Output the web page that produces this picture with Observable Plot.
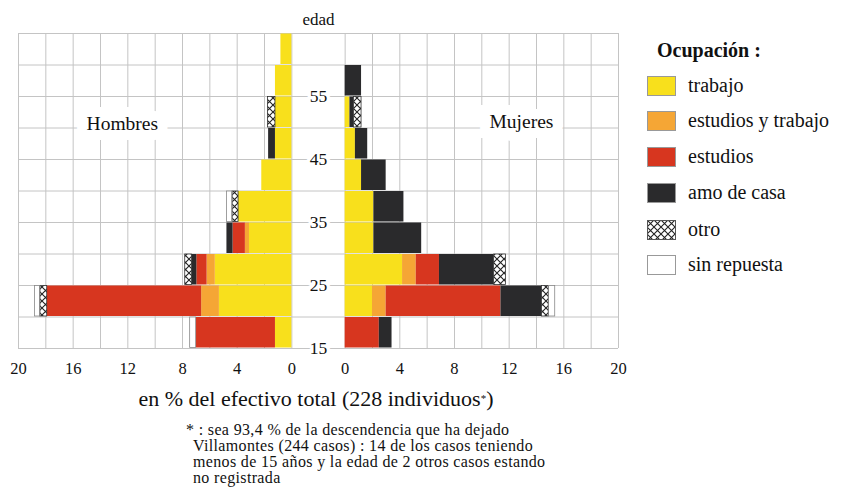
<!DOCTYPE html>
<html>
<head>
<meta charset="utf-8">
<script src="https://cdn.jsdelivr.net/npm/d3@7"></script>
<script src="https://cdn.jsdelivr.net/npm/@observablehq/plot@0.6"></script>
<style>
  body { margin: 0; background: #fff; }
  #wrap { position: relative; width: 849px; height: 488px; font-family: "Liberation Serif", "Times New Roman", serif; color: #111; }
  #chart { position: absolute; left: 0; top: 0; }
  .abs { position: absolute; white-space: nowrap; }
  .legrow { position: absolute; left: 647px; height: 20px; width: 200px; }
  .legrow svg { position: absolute; left: 0; top: 0; }
  .legrow span { position: absolute; left: 41px; top: -2px; font-size: 20px; line-height: 22px; white-space: nowrap; }
  .fn { position: absolute; font-size: 16px; line-height: 16px; letter-spacing: 0.35px; white-space: nowrap; }
</style>
</head>
<body>
<svg width="0" height="0" style="position:absolute">
  <defs>
    <pattern id="xhatch" patternUnits="userSpaceOnUse" width="7" height="7">
      <rect width="7" height="7" fill="#fff"></rect>
      <path d="M0,0 L7,7 M7,0 L0,7" stroke="#222" stroke-width="1.1"></path>
    </pattern>
  </defs>
</svg>
<div id="wrap">
  <div id="chart"></div>
  <div class="abs" id="xtitle" style="left:0; width:632px; text-align:center; top:385px; font-size:22px; line-height:26px;">en % del efectivo total (228 individuos<span style="font-size:11px; vertical-align:4px;">*</span>)</div>
  <div class="fn" style="left:186px; top:422px;">* : sea 93,4 % de la descendencia que ha dejado</div>
  <div class="fn" style="left:193px; top:438px;">Villamontes (244 casos) : 14 de los casos teniendo</div>
  <div class="fn" style="left:193px; top:454px;">menos de 15 años y la edad de 2 otros casos estando</div>
  <div class="fn" style="left:193px; top:470px;">no registrada</div>
  <div class="abs" style="left:657px; top:38px; font-size:20px; line-height:24px; font-weight:bold;">Ocupación :</div>
  <div id="legend"></div>
</div>
<script>
// ---- data (percent of 228 individuals) ----
const ageStarts = [15, 20, 25, 30, 35, 40, 45, 50, 55, 60];
const categories = ["trabajo", "estudios y trabajo", "estudios", "amo de casa", "otro", "sin repuesta"];
const categoryColors = ["#f8e01c", "#f5a635", "#d7361f", "#2a2a2c", "url(#xhatch)", "#ffffff"];

// Hombres (by age bin 15-20 ... 60-65)
const hombresTrabajo        = [1.2, 5.3, 5.6, 3.1, 3.9, 2.2, 1.2, 1.2, 1.2, 0.8];
const hombresEstudiosTrabajo= [0,   1.3, 0.6, 0.3, 0,   0,   0,   0,   0,   0];
const hombresEstudios       = [5.8, 11.3,0.75,0.9, 0,   0,   0,   0,   0,   0];
const hombresAmoCasa        = [0,   0,   0.35,0.45,0,   0,   0.5, 0,   0,   0];
const hombresOtro           = [0,   0.5, 0.5, 0,   0.44,0,   0,   0.55,0,   0];
const hombresSinRespuesta   = [0.44,0.4, 0,   0,   0.4, 0,   0,   0,   0,   0];

// Mujeres
const mujeresTrabajo        = [0,   2.0, 4.2, 2.1, 2.1, 1.2, 0.75,0.35,0,   0];
const mujeresEstudiosTrabajo= [0,   1.0, 1.0, 0,   0,   0,   0,   0,   0,   0];
const mujeresEstudios       = [2.5, 8.4, 1.7, 0,   0,   0,   0,   0,   0,   0];
const mujeresAmoCasa        = [0.93,3.0, 4.0, 3.5, 2.2, 1.8, 0.9, 0.3, 1.2, 0];
const mujeresOtro           = [0,   0.5, 0.86,0,   0,   0,   0,   0.55,0,   0];
const mujeresSinRespuesta   = [0,   0.47,0,   0,   0,   0,   0,   0,   0,   0];

const xTickLabels = [0, 4, 8, 12, 16, 20];
const ageLabels = [15, 25, 35, 45, 55];

// ---- layout helpers ----
const serif = "'Liberation Serif', 'Times New Roman', serif";
const gap = 1.95; // half-gap between the two panels, in % units
const gridSteps = d3.range(0, 21, 2);

const rows = [];
function addSex(sex, series) {
  ageStarts.forEach((age, i) => {
    let acc = 0;
    categories.forEach((cat, j) => {
      const v = series[j][i];
      if (v > 0) { rows.push({sex, cat, age, start: acc, end: acc + v}); acc += v; }
    });
  });
}
addSex("H", [hombresTrabajo, hombresEstudiosTrabajo, hombresEstudios, hombresAmoCasa, hombresOtro, hombresSinRespuesta]);
addSex("M", [mujeresTrabajo, mujeresEstudiosTrabajo, mujeresEstudios, mujeresAmoCasa, mujeresOtro, mujeresSinRespuesta]);

const pos = (sex, v) => sex === "H" ? -(gap + v) : gap + v;
const gridX = gridSteps.flatMap(k => [-(gap + k), gap + k]);
const tickX = xTickLabels.flatMap(k => [-(gap + k), gap + k]);
const gridY = d3.range(15, 66, 5);
const barOpts = {
  x1: d => pos(d.sex, d.start), x2: d => pos(d.sex, d.end),
  y1: "age", y2: d => d.age + 5, insetTop: 0.5, insetBottom: 0.5
};

const plot = Plot.plot({
  width: 849,
  height: 390,
  marginLeft: 18,
  marginRight: 231,
  marginTop: 33,
  marginBottom: 42,
  style: {fontFamily: serif, background: "transparent", color: "#111"},
  x: {domain: [-(20 + gap), 20 + gap], axis: null},
  y: {domain: [15, 65], axis: null},
  color: {type: "ordinal", domain: categories, range: categoryColors},
  marks: [
    Plot.ruleX(gridX, {y1: 15, y2: 65, stroke: "#c4c4c4", strokeWidth: 1}),
    Plot.ruleY(gridY, {x1: -(20 + gap), x2: 20 + gap, stroke: "#c4c4c4", strokeWidth: 1}),
    Plot.rectX(rows, {...barOpts, fill: "cat"}),
    Plot.rectX(rows.filter(d => d.cat === "otro"), {...barOpts, fill: "none", stroke: "#333", strokeWidth: 0.8}),
    Plot.rectX(rows.filter(d => d.cat === "sin repuesta"), {...barOpts, fill: "none", stroke: "#888", strokeWidth: 0.8}),
    Plot.axisX(tickX, {tickSize: 0, tickPadding: 14, fontSize: 16.5, fontFamily: serif, fill: "#111",
      tickFormat: d => String(Math.round(Math.abs(d) - gap))}),
    Plot.text(ageLabels, {x: 0, y: d => d, text: d => String(d), fontSize: 17.5, fontFamily: serif,
      fill: "#111", stroke: "white", strokeWidth: 7}),
    Plot.text(["edad"], {x: 0, y: 65, dy: -14, fontSize: 17, fontFamily: serif, fill: "#111"}),
    Plot.text(["Hombres"], {x: -(gap + 12.4), y: 50.6, fontSize: 19.5, fontFamily: serif, fill: "#111",
      stroke: "white", strokeWidth: 20, strokeLinejoin: "miter"}),
    Plot.text(["Mujeres"], {x: gap + 12.9, y: 51, fontSize: 19.5, fontFamily: serif, fill: "#111",
      stroke: "white", strokeWidth: 20, strokeLinejoin: "miter"})
  ]
});
document.getElementById("chart").appendChild(plot);

// legend
const legendCenters = [86, 121, 157, 193, 230, 265];
const legend = document.getElementById("legend");
categories.forEach((cat, i) => {
  const row = document.createElement("div");
  row.className = "legrow";
  row.style.top = (legendCenters[i] - 10) + "px";
  const border = cat === "otro" ? "#555" : "#999";
  row.innerHTML = `<svg width="29" height="20"><rect x="0.5" y="0.5" width="28" height="19" fill="${categoryColors[i]}" stroke="${border}" stroke-width="1"></rect></svg><span>${cat}</span>`;
  legend.appendChild(row);
});
</script>
</body>
</html>
